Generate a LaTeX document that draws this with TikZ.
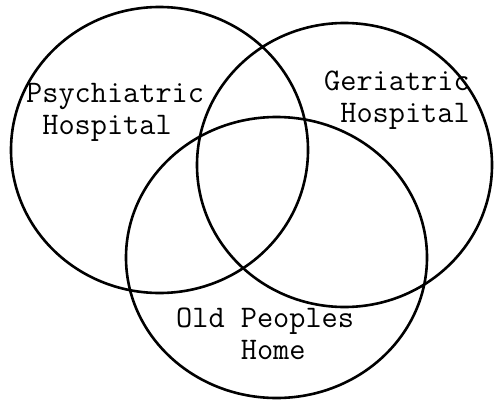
\documentclass[tikz,border=0pt]{standalone}
\usepackage{tikz}
\usetikzlibrary{positioning, shapes.geometric}

\begin{document}
\begin{tikzpicture}[x=1pt, y=1pt,
      setring/.style={ellipse, draw=black, line width=2.6pt, inner sep=0pt, outer sep=0pt},
      setlabel/.style={font=\ttfamily\fontsize{31.4}{32}\selectfont, align=left, inner sep=0pt, anchor=base west}
    ]
      \useasboundingbox (0,0) rectangle (494,400);
      % the three sets
      \node[setring, minimum width=297pt, minimum height=286pt] (psych) at (159.5,250) {};
      \node[setring, minimum width=295pt, minimum height=284pt] (geri) at (344.5,235) {};
      \node[setring, minimum width=301pt, minimum height=281pt] (home) at (276.5,142.5) {};

      \node[setlabel] (psychtext) at (26,266) {Psychiatric\\\phantom{P}Hospital};
      \node[setlabel] (geritext) at (324,278) {Geriatric\\\phantom{G}Hospital};
      \node[setlabel] (hometext) at (176,41) {Old Peoples\\\phantom{Old\ }Home};
    \end{tikzpicture}
\end{document}
